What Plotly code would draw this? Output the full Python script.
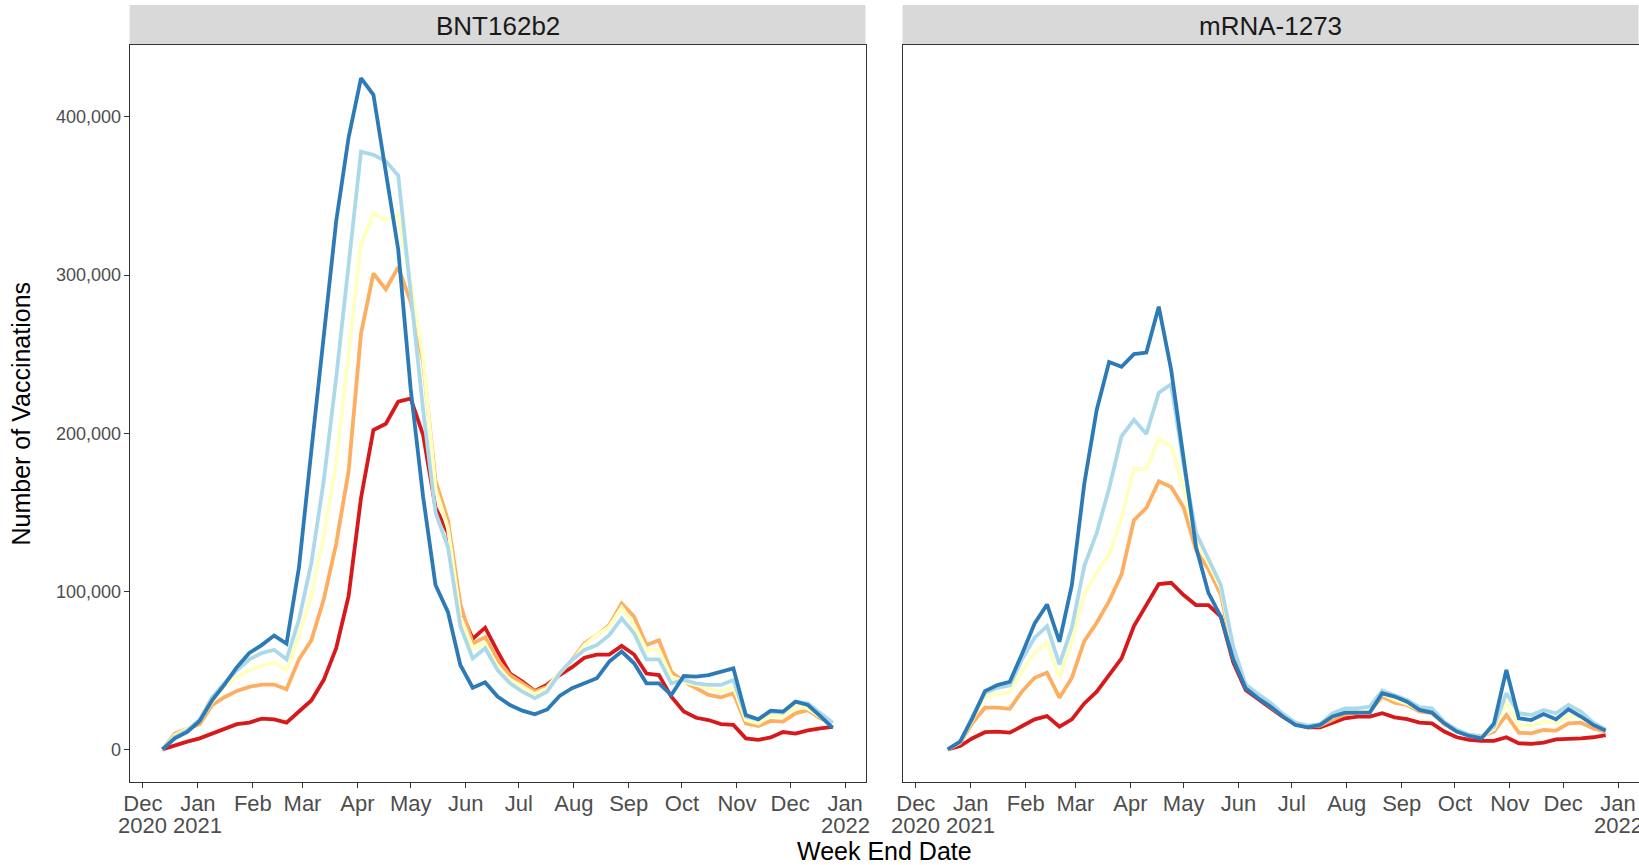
import plotly.graph_objects as go
import pandas as pd

# Figure fills the whole 1639x865 window (body margin removed after plotting).
W, H = 1639, 865

# ---------------- data (thousands of vaccinations) ----------------
bnt_dates = pd.date_range("2020-12-12", periods=55, freq="7D")
mrna_dates = pd.date_range("2020-12-19", periods=54, freq="7D")

series_names = ["Group 1", "Group 2", "Group 3", "Group 4", "Group 5"]
series_colors = ["#D7191C", "#FDAE61", "#FFFFBF", "#ABD9E9", "#2C7BB6"]

bnt_g1 = [0, 2.7, 4.9, 7, 10, 13, 16, 17, 19.5, 19, 17, 24, 31, 44, 64, 97, 159, 202, 206, 220,
          222, 199, 153, 137, 88, 70, 77, 62, 48, 43, 37, 41, 47, 52, 58, 60, 60, 65.5, 60, 48,
          47, 33.4, 24, 20, 18.6, 16, 15.5, 7, 6, 7.6, 11, 10, 12, 13.3, 14.3]
bnt_g2 = [0, 10, 13, 16, 28, 33, 37, 39.5, 41, 41, 38, 57, 69, 95, 130, 176, 263, 301, 291, 305,
          283, 245, 170, 145, 92, 67, 71, 56.6, 47, 41.8, 36.6, 39.7, 48, 56.6, 67, 72.3, 78.6, 92.3, 84, 66,
          69, 49, 43, 38.7, 34.5, 33, 35.5, 16.5, 14.8, 18, 17.6, 22.8, 24.9, 19.7, 16.5]
bnt_g3 = [0, 9, 13, 18, 30, 40, 46, 50, 53, 55, 50, 72, 97, 135, 181, 249, 319, 339, 335, 338,
          295, 248, 165, 140, 84, 64, 67, 52, 44, 39.7, 35, 38.7, 49, 55.6, 66, 72.3, 77.6, 89.8, 78.6, 62.8,
          62.8, 46, 42.9, 40.8, 38.7, 36.6, 39.7, 18.6, 16.5, 21.8, 21.1, 27, 26, 20.7, 15.4]
bnt_g4 = [0, 8, 12, 19, 33, 42, 50, 57, 61, 63, 57, 82, 118, 170, 235, 305, 378, 376, 372, 363,
          289, 215, 150, 128, 78, 57.6, 64, 50.2, 41.8, 36.6, 32.4, 36.6, 48, 56.6, 62.9, 66, 72.3, 82.9, 73.4, 56.9,
          56.9, 41.8, 43.9, 41.8, 40.8, 40.8, 43.9, 20.7, 19, 23.9, 23.2, 30.2, 29.2, 23.2, 16.9]
bnt_g5 = [0, 7, 11, 18, 31, 41, 52, 61, 66, 72, 67, 115, 189, 262, 334, 387, 424.5, 414, 366, 316,
          228, 160, 104, 87, 53.4, 39, 42.4, 33.4, 28.1, 24.5, 22.2, 25.3, 33.8, 38.7, 41.8, 45, 55.6, 61.9, 54.5, 41.8,
          41.8, 34.4, 46.4, 46, 47, 49.2, 51.3, 21.8, 19, 24.5, 23.9, 30.2, 28.1, 21.1, 13.7]

mrna_g1 = [0, 2.1, 7.1, 10.9, 11.3, 10.6, 14.8, 19, 21.1, 14.4, 19, 29.1, 36.5, 47, 57.6, 78, 91.3, 104.6, 105.4,
           97.6, 91.3, 91.3, 84, 55, 37.6, 32, 26.5, 20.5, 16.1, 14, 14, 16.9, 19.7, 20.8, 20.8, 22.9, 20.3, 19.1,
           16.9, 16.5, 11.3, 7.7, 6, 5.4, 5.4, 7.7, 3.9, 3.5, 4.3, 6.4, 6.4, 7, 7.7, 9.1]
mrna_g2 = [0, 4.2, 16.9, 26.4, 26.4, 25.7, 36.9, 45.3, 48.5, 32.7, 45.3, 68.5, 80.1, 93.8, 110.7, 145, 152.7, 169.6, 166,
           153, 126, 114, 98, 60, 39, 33, 27.5, 21, 16, 14.5, 15, 18.6, 22.4, 22.9, 24, 33.4, 29.6, 28.1,
           24, 23, 16, 11.5, 9, 8.5, 11.3, 21.8, 10.6, 10.2, 12.3, 11.9, 16.5, 16.9, 13.3, 11.3]
mrna_g3 = [0, 4.6, 19, 33.8, 34.8, 36.3, 49.6, 61.2, 67.5, 45.3, 67.5, 98.1, 111.8, 123.4, 146.6, 177.6, 177.2, 196.6, 191.5,
           165, 132, 118, 102, 62, 39.5, 33.5, 28, 21.5, 16.5, 15, 15.5, 20.5, 24, 24.5, 25, 35, 31.5, 29,
           25, 24, 16.5, 11.8, 9, 8, 13, 30.2, 15.5, 14.8, 18, 16.5, 21.2, 20.3, 16.1, 12.3]
mrna_g4 = [0, 5, 20.9, 35.9, 39, 40.5, 57, 70.7, 78, 53.8, 77, 116, 137, 165, 198, 208.5, 199.5, 225.6, 231,
           180, 137, 120, 104, 65, 41, 35, 29.5, 22.5, 17, 15, 16, 22.9, 26, 26, 27.1, 37.2, 34.4, 31.3,
           26.7, 26, 17.5, 12.5, 9.5, 8, 14.5, 35.5, 22.9, 21.8, 25, 22.9, 28.1, 24, 16.9, 12.7]
mrna_g5 = [0, 4.9, 20, 36.9, 40.7, 42.8, 60.7, 79.7, 91.7, 68.1, 104, 168, 214.7, 245, 242, 250, 251, 280, 240,
           185, 128, 99, 84, 57, 38.7, 32.4, 27.1, 20.8, 15.5, 14, 15.5, 20.8, 23.3, 23.3, 23.3, 35.5, 33.4, 30.2,
           25, 23.3, 16.5, 11.3, 8.5, 7, 16.5, 50.2, 19.7, 18.6, 22.4, 19.1, 25.4, 20.8, 15.5, 11.9]

panel_titles = ["BNT162b2", "mRNA-1273"]
y_tickvals = [0, 100000, 200000, 300000, 400000]
y_ticktext = ["0", "100,000", "200,000", "300,000", "400,000"]
x_tickvals = pd.date_range("2020-12-01", "2022-01-01", freq="MS")
x_ticktext = ["Dec", "Jan", "Feb", "Mar", "Apr", "May", "Jun", "Jul",
              "Aug", "Sep", "Oct", "Nov", "Dec", "Jan"]
year_dates = ["2020-12-01", "2021-01-01", "2022-01-01"]
year_labels = ["2020", "2021", "2022"]

# ---------------- figure ----------------
FONT = "Liberation Sans, Arial, sans-serif"
TICK_COLOR = "#4D4D4D"
fig = go.Figure()

panels = [
    (bnt_dates, [bnt_g1, bnt_g2, bnt_g3, bnt_g4, bnt_g5], "x", "y"),
    (mrna_dates, [mrna_g1, mrna_g2, mrna_g3, mrna_g4, mrna_g5], "x2", "y2"),
]
for dates, groups, xa, ya in panels:
    for name, color, vals in zip(series_names, series_colors, groups):
        fig.add_trace(go.Scatter(
            x=dates, y=[v * 1000 for v in vals], mode="lines", name=name,
            line=dict(color=color, width=3.8), xaxis=xa, yaxis=ya, showlegend=False,
            hovertemplate="%{x|%Y-%m-%d}: %{y:,.0f}<extra>" + name + "</extra>"))

px_x = lambda p: p / W
px_y = lambda p: (H - p) / H

dom1 = [px_x(129.6), px_x(865.5)]
dom2 = [px_x(902.5), px_x(1638.5)]
ydom = [px_y(782), px_y(45)]

xcommon = dict(type="date", range=["2020-11-23 12:00", "2022-01-12 12:00"],
               tickmode="array", tickvals=x_tickvals, ticktext=x_ticktext,
               ticks="outside", ticklen=5, tickcolor="#333333", tickwidth=1,
               ticklabelstandoff=-3,
               tickfont=dict(family=FONT, size=22, color=TICK_COLOR),
               showline=True, mirror=True, linecolor="#333333", linewidth=1,
               showgrid=False, zeroline=False, automargin=False)
ycommon = dict(range=[-20600, 445500], tickmode="array", tickvals=y_tickvals,
               showline=True, mirror=True, linecolor="#333333", linewidth=1,
               showgrid=False, zeroline=False, automargin=False)

fig.update_layout(
    width=W, height=H,
    margin=dict(l=0, r=0, t=0, b=0, autoexpand=False),
    paper_bgcolor="white", plot_bgcolor="white",
    font=dict(family=FONT),
    xaxis=dict(domain=dom1, anchor="y", **xcommon),
    xaxis2=dict(domain=dom2, anchor="y2", **xcommon),
    yaxis=dict(domain=ydom, anchor="x", ticktext=y_ticktext, ticks="outside", ticklen=5,
               tickcolor="#333333", ticklabelstandoff=-1,
               tickfont=dict(family=FONT, size=18, color=TICK_COLOR), **ycommon),
    yaxis2=dict(domain=ydom, anchor="x2", matches="y", showticklabels=False, ticks="", **ycommon),
)

# year labels under the month ticks
for xr in ["x", "x2"]:
    for d, lab in zip(year_dates, year_labels):
        fig.add_annotation(text=lab, xref=xr, yref="paper", x=d, y=px_y(825),
                           showarrow=False, xanchor="center", yanchor="middle",
                           font=dict(family=FONT, size=22, color=TICK_COLOR))

# facet strips
for dom, title in zip([dom1, dom2], panel_titles):
    fig.add_shape(type="rect", xref="paper", yref="paper",
                  x0=dom[0], x1=dom[1], y0=px_y(45), y1=px_y(5),
                  fillcolor="#D9D9D9", line=dict(width=0), layer="below")
    fig.add_annotation(text=title, xref="paper", yref="paper",
                       x=(dom[0] + dom[1]) / 2, y=px_y(26), showarrow=False,
                       xanchor="center", yanchor="middle",
                       font=dict(family=FONT, size=26, color="#1A1A1A"))

# axis titles
fig.add_annotation(text="Week End Date", xref="paper", yref="paper",
                   x=(dom1[0] + dom2[1]) / 2, y=px_y(851), showarrow=False,
                   xanchor="center", yanchor="middle",
                   font=dict(family=FONT, size=25, color="black"))
fig.add_annotation(text="Number of Vaccinations", xref="paper", yref="paper",
                   x=px_x(21), y=px_y(413.5), showarrow=False, textangle=-90,
                   xanchor="center", yanchor="middle",
                   font=dict(family=FONT, size=25, color="black"))

fig.write_html(
    "out.html",
    config={"displayModeBar": False},
    post_script="document.body.style.margin='0px';document.body.style.overflow='hidden';",
)
